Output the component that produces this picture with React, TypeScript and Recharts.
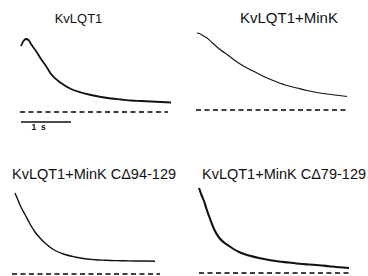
import { LineChart, Line, XAxis, YAxis, ReferenceLine } from "recharts";

// time after repolarisation (s)
const TIME_S = [0, 0.05, 0.1, 0.15, 0.2, 0.3, 0.4, 0.5, 0.6, 0.8, 1.0, 1.2, 1.4, 1.6, 1.8, 2.0, 2.2, 2.4, 2.6, 2.8, 3.0];

// tail current (a.u.)
const KVLQT1 = [66, 71, 73, 72, 68, 61, 53, 46, 38, 29, 23, 19.5, 17, 15, 13.5, 12.5, 11.5, 11, 10.5, 10, 9.5];
const KVLQT1_MINK = [77, 76.5, 75, 73.5, 72, 67.5, 63, 59, 55.5, 48, 42, 37, 32, 28, 24.5, 22, 19.5, 17.5, 16, 14.8, 13.5];
const MINK_D94 = [81, 75, 69, 64, 59.5, 50, 42, 36, 31, 23.5, 19.5, 17, 15.2, 14.3, 13.8, 13.4, 13.2, 13, 13, 12.8, null];
const MINK_D79 = [85, 78, 72, 64, 57, 44, 35.5, 30.5, 27, 21, 17.5, 15, 13, 11.5, 10.5, 9.3, 8.5, 7.8, 6.8, 5.8, 5];

const TITLES = ["KvLQT1", "KvLQT1+MinK", "KvLQT1+MinK C\u039494-129", "KvLQT1+MinK C\u039479-129"];

const FONT = "'Liberation Sans', Arial, Helvetica, sans-serif";

type PanelProps = {
  values: (number | null)[];
  left: number;
  top: number;
  zeroFrom: number;
  zeroTo: number;
  width: number;
  scaleBar?: boolean;
};

function Panel({ values, left, top, zeroFrom, zeroTo, width, scaleBar }: PanelProps) {
  const data = TIME_S.map((t, i) => ({ t, i: values[i] }));
  return (
    <div style={{ position: "absolute", left, top }}>
      <LineChart width={170} height={110} data={data} margin={{ top: 0, right: 0, bottom: 0, left: 0 }}>
        <XAxis dataKey="t" type="number" domain={[-0.2, 3.2]} hide />
        <YAxis type="number" domain={[-15, 95]} hide />
        <ReferenceLine
          segment={[{ x: zeroFrom, y: 0 }, { x: zeroTo, y: 0 }]}
          stroke="#000"
          strokeWidth={1.5}
          strokeDasharray="5 3.5"
          ifOverflow="visible"
        />
        {scaleBar && (
          <ReferenceLine
            segment={[{ x: 0, y: -10 }, { x: 1, y: -10 }]}
            stroke="#111"
            strokeWidth={1.4}
            ifOverflow="visible"
          />
        )}
        <Line
          dataKey="i"
          type="monotone"
          stroke="#111"
          strokeWidth={width}
          dot={false}
          connectNulls={false}
          isAnimationActive={false}
        />
      </LineChart>
    </div>
  );
}

export default function App() {
  return (
    <div
      style={{
        position: "absolute",
        left: 0,
        top: 0,
        width: 368,
        height: 276,
        overflow: "hidden",
        background: "#fff",
      }}
    >
      <Panel values={KVLQT1} left={11} top={17} zeroFrom={-0.02} zeroTo={2.94} width={1.8} scaleBar />
      <Panel values={KVLQT1_MINK} left={187} top={15} zeroFrom={-0.02} zeroTo={3.0} width={1.1} />
      <Panel values={MINK_D94} left={5} top={179} zeroFrom={-0.06} zeroTo={2.9} width={1.4} />
      <Panel values={MINK_D79} left={189} top={178} zeroFrom={0} zeroTo={3.02} width={2.1} />
      <svg
        width={368}
        height={276}
        style={{ position: "absolute", left: 0, top: 0, pointerEvents: "none" }}
        fontFamily={FONT}
        fill="#111"
      >
        <text x={78.5} y={23} fontSize={13} textAnchor="middle">{TITLES[0]}</text>
        <text x={289} y={23.3} fontSize={15} textAnchor="middle">{TITLES[1]}</text>
        <text x={12} y={178.7} fontSize={14.5}>{TITLES[2]}</text>
        <text x={202} y={178.7} fontSize={14.5}>{TITLES[3]}</text>
        <text x={31.5} y={129.5} fontSize={8.5} fontWeight="bold" letterSpacing={1.2}>1 s</text>
      </svg>
    </div>
  );
}
